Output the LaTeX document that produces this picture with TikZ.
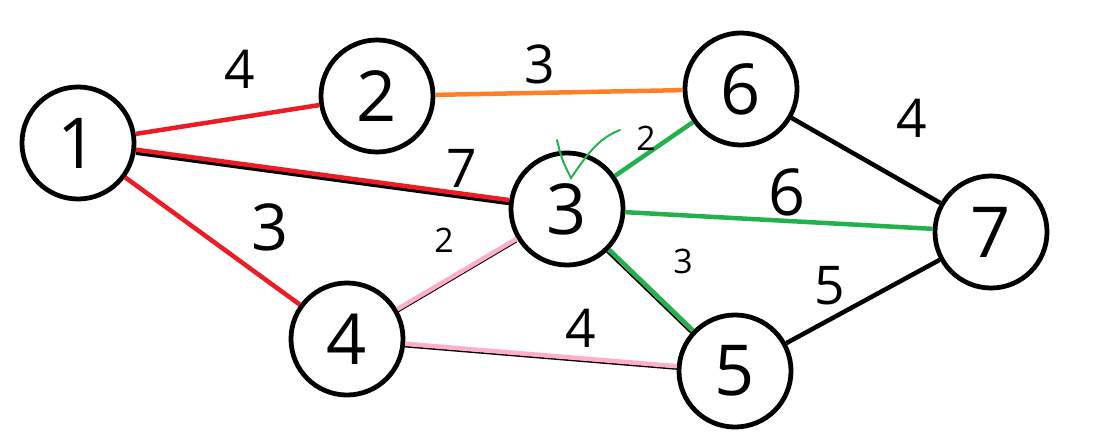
\documentclass[tikz,border=0pt]{standalone}
\usepackage{fontspec}
\setmainfont{Open Sans}
\definecolor{PaintRed}{HTML}{ED1C24}
\definecolor{PaintOrange}{HTML}{FF7F27}
\definecolor{PaintGreen}{HTML}{22B14C}
\definecolor{PaintPink}{HTML}{FFAEC9}
\usepackage{tikz}

\begin{document}
\begin{tikzpicture}[x=0.025cm, y=-0.025cm, line width=3.2pt,
  vertex/.style={draw, circle, line width=3.4pt, minimum size=2.8cm, inner sep=0pt,
                 font=\fontsize{50}{50}\selectfont},
  weight/.style={text=black, font=\fontsize{38}{38}\selectfont},
  tiny/.style={text=black, font=\fontsize{24}{24}\selectfont},
  under/.style={black, line width=1.2pt}]
  \useasboundingbox (0,0) rectangle (1098,441);

  \node[vertex] (n1) at (78,143) {1};
  \node[vertex] (n2) at (377,96) {2};
  \node[vertex] (n6) at (741,89) {6};
  \node[vertex] (n3) at (567,209) {3};
  \node[vertex] (n7) at (991,232) {7};
  \node[vertex] (n4) at (347,339) {4};
  \node[vertex] (n5) at (735,371) {5};

  % black strokes left under the coloured ones
  \draw[under, line width=2.6pt, transform canvas={yshift=-1.6pt}] (n1) -- (n3);
  \draw[under, transform canvas={xshift=-1.6pt, yshift=-1.6pt}] (n3) -- (n5);
  \draw[under, transform canvas={yshift=-2pt}] (n3) -- (n4);
  \draw[under, transform canvas={yshift=-2pt}] (n4) -- (n5);

  \draw[PaintRed] (n1) -- (n2);
  \draw[PaintOrange] (n2) -- (n6);
  \draw[PaintRed, transform canvas={yshift=0.8pt}] (n1) -- (n3);
  \draw[PaintRed] (n1) -- (n4);
  \draw[PaintGreen] (n3) -- (n6);
  \draw[PaintGreen] (n3) -- (n7);
  \draw[PaintGreen] (n3) -- (n5);
  \draw[PaintPink] (n3) -- (n4);
  \draw[PaintPink] (n4) -- (n5);
  \draw (n6) -- (n7);
  \draw (n5) -- (n7);

  % weights
  \node[weight] (w12) at (240,69) {4};
  \node[weight] (w26) at (540,64) {3};
  \node[weight] (w13) at (462,168) {7};
  \node[weight, font=\fontsize{46}{46}\selectfont] (w14) at (270,227) {3};
  \node[tiny] (w34) at (444,240) {2};
  \node[tiny] (w36) at (646,138) {2};
  \node[weight, font=\fontsize{46}{46}\selectfont] (w37) at (787,192) {6};
  \node[tiny] (w35) at (683,261) {3};
  \node[weight] (w45) at (581,328) {4};
  \node[weight] (w67) at (912,118) {4};
  \node[weight] (w57) at (830,286) {5};

  % tick
  \draw[PaintGreen, line width=1.4pt, line cap=round]
    (557,140) .. controls (562,160) .. (571,178) .. controls (590,150) and (600,138) .. (620,130);
\end{tikzpicture}
\end{document}
